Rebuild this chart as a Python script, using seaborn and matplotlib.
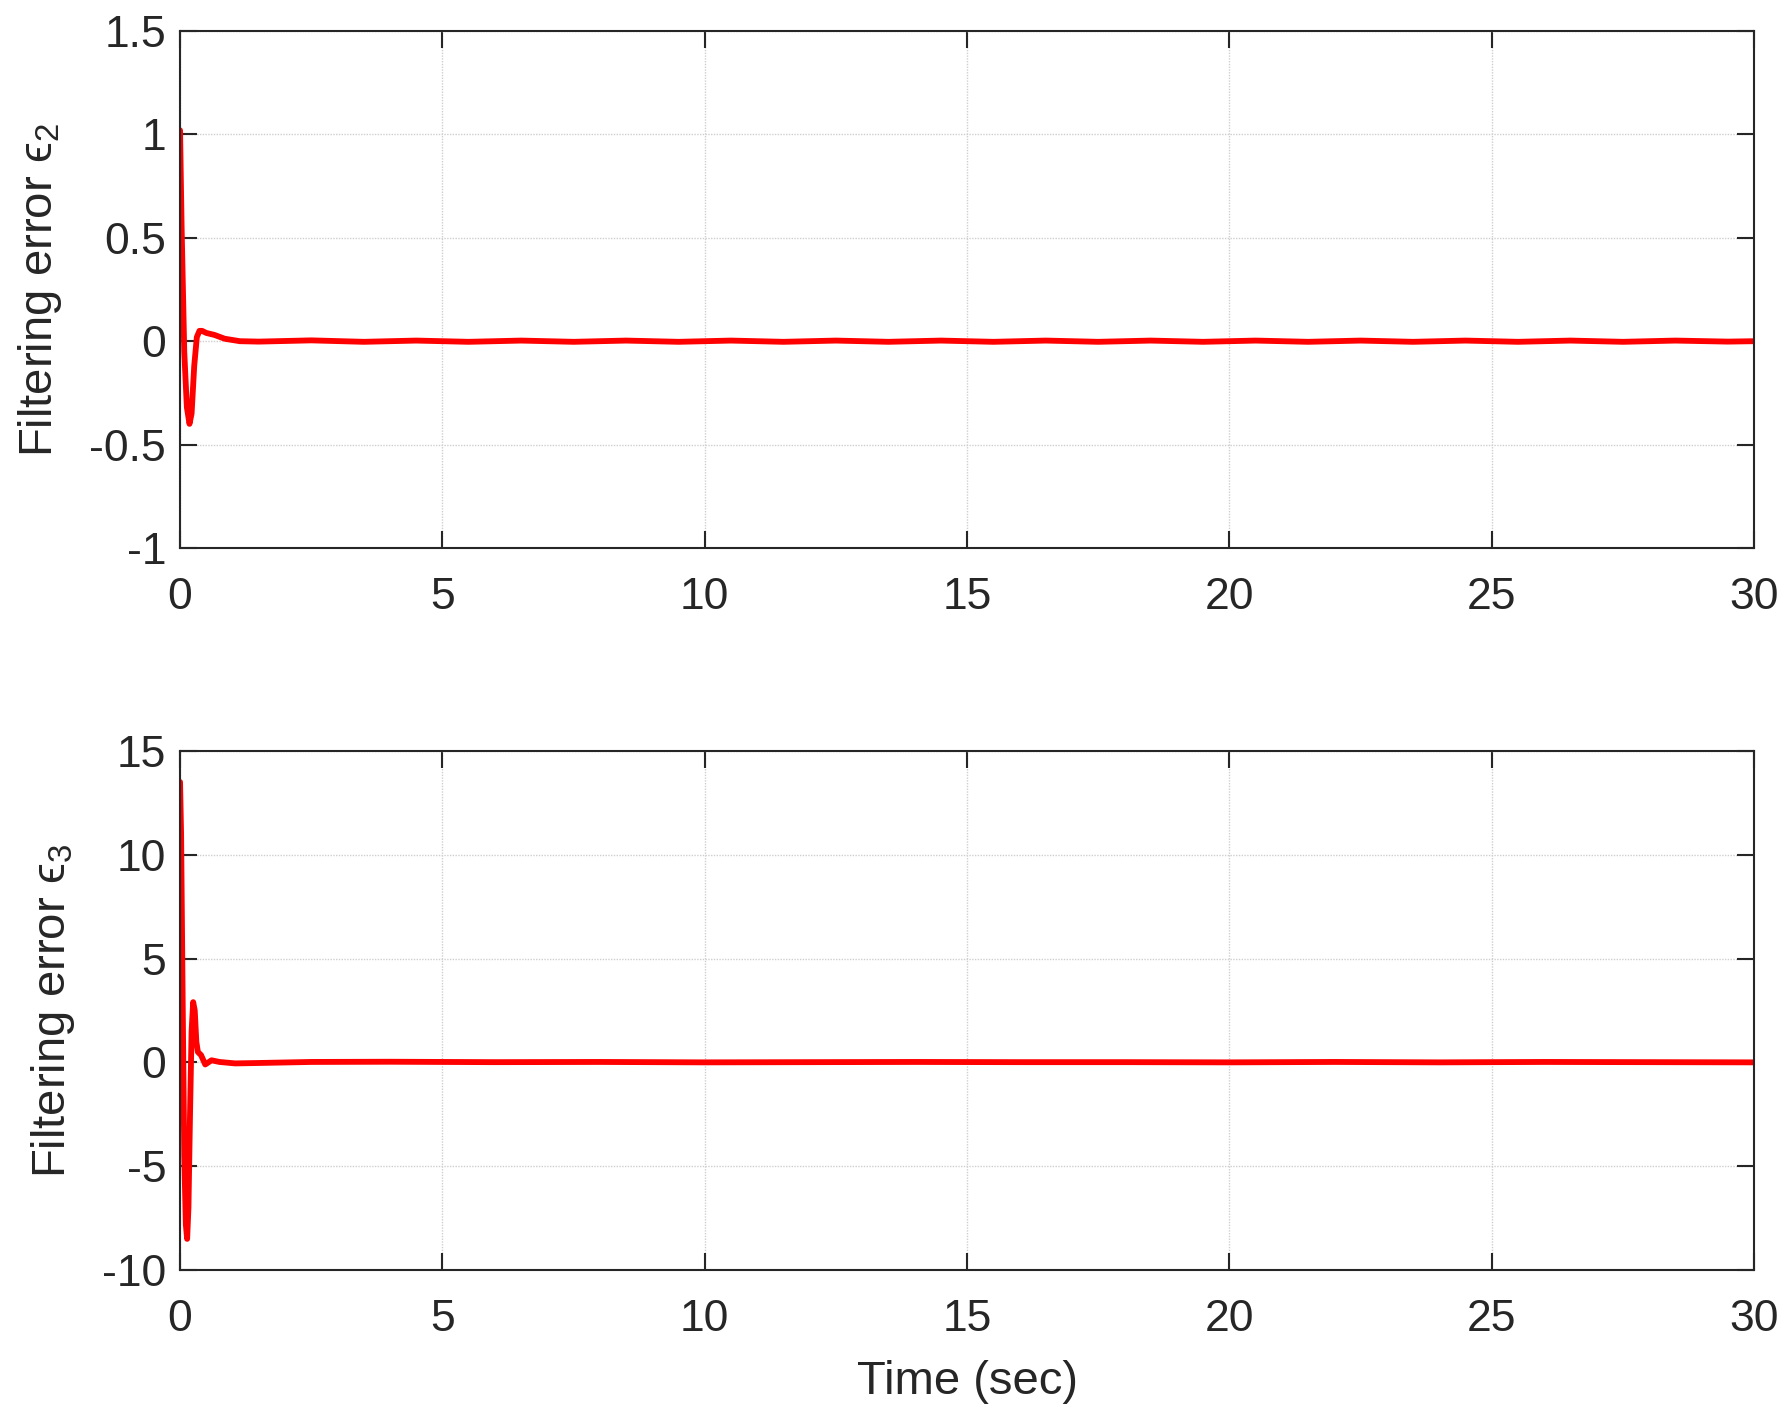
import numpy as np
import pandas as pd
import matplotlib
matplotlib.use("Agg")
import matplotlib.pyplot as plt
import seaborn as sns

# filtering error e2
t_e2 = [0.0, 0.03, 0.08, 0.13, 0.18, 0.22, 0.27, 0.32, 0.37, 0.42, 0.5, 0.66, 0.85, 1.14, 1.5,
        2.5, 3.5, 4.5, 5.5, 6.5, 7.5, 8.5, 9.5, 10.5, 11.5, 12.5, 13.5, 14.5, 15.5,
        16.5, 17.5, 18.5, 19.5, 20.5, 21.5, 22.5, 23.5, 24.5, 25.5, 26.5, 27.5, 28.5, 29.5, 30.0]
e2 = [1.02, 0.55, -0.05, -0.32, -0.40, -0.35, -0.12, 0.02, 0.05, 0.05, 0.04, 0.03, 0.012, 0.0, -0.002,
      0.004, -0.003, 0.003, -0.003, 0.003, -0.003, 0.003, -0.003, 0.003, -0.003, 0.003, -0.003, 0.003, -0.003,
      0.003, -0.003, 0.003, -0.003, 0.003, -0.003, 0.003, -0.003, 0.003, -0.003, 0.003, -0.003, 0.003, -0.002, 0.0]

# filtering error e3
t_e3 = [0.0, 0.02, 0.05, 0.08, 0.11, 0.135, 0.16, 0.19, 0.22, 0.25, 0.28, 0.31, 0.34, 0.4, 0.48,
        0.6, 0.75, 1.05, 1.5, 2.5, 4.0, 6.0, 8.0, 10.0, 12.0, 14.0, 16.0, 18.0, 20.0, 22.0, 24.0,
        26.0, 28.0, 30.0]
e3 = [13.5, 11.0, 3.0, -4.5, -7.8, -8.5, -7.0, -2.5, 1.5, 2.9, 2.5, 1.0, 0.5, 0.35, -0.1,
      0.1, 0.02, -0.05, -0.03, 0.02, 0.03, 0.01, 0.02, 0.0, 0.01, 0.02, 0.01, 0.01, 0.0, 0.02, 0.0,
      0.02, 0.01, 0.0]

xticks = [0, 5, 10, 15, 20, 25, 30]
yticks_e2 = [-1, -0.5, 0, 0.5, 1, 1.5]
yticks_e3 = [-10, -5, 0, 5, 10, 15]

sns.set_theme(style="white")
plt.rcParams['font.family'] = ['Liberation Sans', 'DejaVu Sans']
plt.rcParams['axes.unicode_minus'] = False
plt.rcParams['mathtext.fontset'] = 'custom'
plt.rcParams['mathtext.rm'] = 'Liberation Sans'
plt.rcParams['mathtext.it'] = 'Liberation Sans'

fig = plt.figure(figsize=(17.88, 14.14), dpi=100)
ax1 = fig.add_axes([0.1007, 0.6125, 0.8803, 0.3655])
ax2 = fig.add_axes([0.1007, 0.1018, 0.8803, 0.3672])

df2 = pd.DataFrame({'t': t_e2, 'e': e2})
df3 = pd.DataFrame({'t': t_e3, 'e': e3})

ink = '#262626'
for ax, df, yt, ylab in [(ax1, df2, yticks_e2, 'Filtering error \u03f5$_{2}$'),
                         (ax2, df3, yticks_e3, 'Filtering error \u03f5$_{3}$')]:
    sns.lineplot(data=df, x='t', y='e', ax=ax, color='#ff0000', linewidth=4.2, estimator=None, sort=False)
    ax.set_xlim(0, 30)
    ax.set_ylim(yt[0], yt[-1])
    ax.set_xticks(xticks)
    ax.set_yticks(yt)
    ax.set_yticklabels(['%g' % v for v in yt])
    ax.grid(True, color='#cfcfcf', linewidth=1.0, linestyle=(0, (1, 1)))
    ax.tick_params(direction='in', length=12, width=1.5, colors=ink, labelsize=32,
                   top=True, right=True, bottom=True, left=True)
    ax.tick_params(axis='x', pad=21)
    ax.tick_params(axis='y', pad=10)
    for s in ax.spines.values():
        s.set_color(ink)
        s.set_linewidth(1.5)
        s.set_visible(True)
    ax.set_ylabel(ylab, fontsize=34, color=ink, labelpad=18)
    ax.set_xlabel('')

ax2.set_xlabel('Time (sec)', fontsize=34, color=ink, labelpad=14)

fig.savefig('out.png', dpi=100, facecolor='white')
